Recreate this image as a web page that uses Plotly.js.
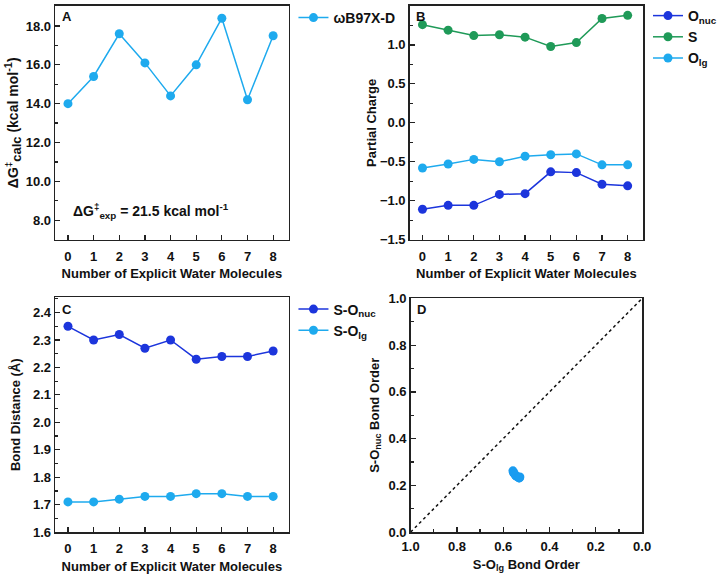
<!DOCTYPE html>
<html><head><meta charset="utf-8">
<script src="https://cdn.plot.ly/plotly-3.0.1.min.js"></script>
<style>body{margin:0;background:#fff}#c{width:722px;height:575px}</style>
</head><body><div id="c"></div>
<script>
const waters = [0,1,2,3,4,5,6,7,8];
const dGcalc = [14.0,15.4,17.6,16.1,14.4,16.0,18.4,14.2,17.5];
const qOnuc = [-1.11,-1.06,-1.06,-0.92,-0.91,-0.63,-0.64,-0.79,-0.81];
const qS = [1.26,1.19,1.12,1.13,1.10,0.98,1.03,1.34,1.38];
const qOlg = [-0.58,-0.53,-0.47,-0.50,-0.43,-0.41,-0.40,-0.54,-0.54];
const dSOnuc = [2.35,2.30,2.32,2.27,2.30,2.23,2.24,2.24,2.26];
const dSOlg = [1.71,1.71,1.72,1.73,1.73,1.74,1.74,1.73,1.73];
const boOlg = [0.558,0.556,0.552,0.548,0.544,0.536,0.532,0.528,0.530];
const boOnuc = [0.262,0.255,0.250,0.244,0.240,0.236,0.232,0.236,0.232];
const diagX = [1,0];
const diagY = [0,1];

const cDark = '#1c35dc', cLight = '#1eaaee', cGreen = '#1f9a58', cScat = '#1a9cf0';
const F = 'Liberation Sans, Arial, sans-serif';
const W = 722, H = 575;
const px = (a,b)=>[a/W,b/W];
const py = (top,bot)=>[1-bot/H,1-top/H];

function ln(x,y,name,color,xa,ya,leg){
  return {x:x,y:y,name:name,type:'scatter',mode:'lines+markers',xaxis:xa,yaxis:ya,legend:leg,
    line:{color:color,width:1.5},marker:{color:color,size:9}};
}
const traces = [
  ln(waters,dGcalc,'ωB97X-D',cLight,'x','y','legend'),
  ln(waters,qOnuc,'O<sub>nuc</sub>',cDark,'x2','y2','legend2'),
  ln(waters,qS,'S',cGreen,'x2','y2','legend2'),
  ln(waters,qOlg,'O<sub>lg</sub>',cLight,'x2','y2','legend2'),
  ln(waters,dSOnuc,'S-O<sub>nuc</sub>',cDark,'x3','y3','legend3'),
  ln(waters,dSOlg,'S-O<sub>lg</sub>',cLight,'x3','y3','legend3'),
  {x:diagX,y:diagY,type:'scatter',mode:'lines',xaxis:'x4',yaxis:'y4',showlegend:false,
    line:{color:'#111',width:1.5,dash:'dot'}},
  {x:boOlg,y:boOnuc,type:'scatter',mode:'markers',xaxis:'x4',yaxis:'y4',showlegend:false,
    marker:{color:cScat,size:9}}
];

const tf = {family:F,size:13,color:'#111',weight:'bold'};
const titf = {family:F,size:13,color:'#111',weight:'bold'};
function ax(extra){
  return Object.assign({showline:true,mirror:true,linecolor:'#222',linewidth:1.5,
    ticks:'inside',ticklen:5,tickwidth:1.2,tickcolor:'#222',showgrid:false,zeroline:false,
    tickfont:tf},extra);
}
const xw = {range:[-0.5,8.6],tickmode:'array',tickvals:waters,ticklabelstandoff:4,
  title:{text:'Number of Explicit Water Molecules',font:titf,standoff:6}};
const legF = {family:F,size:14,color:'#111',weight:'bold'};
const layout = {
  width:W,height:H,margin:{l:0,r:0,t:0,b:0},paper_bgcolor:'#fff',plot_bgcolor:'#fff',
  font:{family:F,color:'#111'},
  xaxis:ax(Object.assign({domain:px(56,293),anchor:'y'},xw)),
  yaxis:ax({domain:py(5,239),anchor:'x',range:[7,19.03],tickvals:[8,10,12,14,16,18],tickformat:'.1f',
    minor:{tickvals:[9,11,13,15,17],ticks:'inside',ticklen:3,tickcolor:'#222'},
    title:{text:'ΔG<sup>‡</sup><sub><span style="font-size:13px">calc</span></sub> (kcal mol<sup><span style="font-size:11px">-1</span></sup>)',font:{family:F,size:14,color:'#111',weight:'bold'},standoff:4}}),
  xaxis2:ax(Object.assign({domain:px(416,653),anchor:'y2'},xw)),
  yaxis2:ax({domain:py(5,239),anchor:'x2',range:[-1.5,1.5],dtick:0.5,tickformat:'.1f',
    minor:{dtick:0.25,ticks:'inside',ticklen:3,tickcolor:'#222'},
    title:{text:'Partial Charge',font:titf,standoff:0}}),
  xaxis3:ax(Object.assign({domain:px(56,293),anchor:'y3'},xw)),
  yaxis3:ax({domain:py(297,532),anchor:'x3',range:[1.6,2.455],dtick:0.1,tick0:1.6,tickformat:'.1f',
    minor:{dtick:0.05,ticks:'inside',ticklen:3,tickcolor:'#222'},
    title:{text:'Bond Distance (Å)',font:titf,standoff:9}}),
  xaxis4:ax({domain:px(417,652),anchor:'y4',range:[1,0],dtick:0.2,tickformat:'.1f',ticklabelstandoff:2,
    minor:{dtick:0.1,ticks:'inside',ticklen:3,tickcolor:'#222'},
    title:{text:'S-O<sub>lg</sub> Bond Order',font:titf,standoff:6}}),
  yaxis4:ax({domain:py(298,532),anchor:'x4',range:[0,1],dtick:0.2,tickformat:'.1f',
    minor:{dtick:0.1,ticks:'inside',ticklen:3,tickcolor:'#222'},
    title:{text:'S-O<sub>nuc</sub> Bond Order',font:titf,standoff:6}}),
  legend:{x:298/W,y:1-1/H,xanchor:'left',yanchor:'top',bgcolor:'rgba(0,0,0,0)',font:legF,itemwidth:30,tracegroupgap:0},
  legend2:{x:658/W,y:1-(-1)/H,xanchor:'left',yanchor:'top',bgcolor:'rgba(0,0,0,0)',font:legF,itemwidth:30,tracegroupgap:0},
  legend3:{x:298/W,y:1-293/H,xanchor:'left',yanchor:'top',bgcolor:'rgba(0,0,0,0)',font:legF,itemwidth:30,tracegroupgap:0},
  annotations:[
    {text:'A',x:61/W,y:1-16/H,xref:'paper',yref:'paper',xanchor:'left',yanchor:'middle',showarrow:false,font:{family:F,size:13,weight:'bold',color:'#111'}},
    {text:'B',x:420/W,y:1-16/H,xref:'paper',yref:'paper',xanchor:'left',yanchor:'middle',showarrow:false,font:{family:F,size:13,weight:'bold',color:'#111'}},
    {text:'C',x:61/W,y:1-309/H,xref:'paper',yref:'paper',xanchor:'left',yanchor:'middle',showarrow:false,font:{family:F,size:13,weight:'bold',color:'#111'}},
    {text:'D',x:421/W,y:1-309/H,xref:'paper',yref:'paper',xanchor:'left',yanchor:'middle',showarrow:false,font:{family:F,size:13,weight:'bold',color:'#111'}},
    {text:'ΔG<sup>‡</sup><sub>exp</sub> = 21.5 kcal mol<sup>-1</sup>',x:72/W,y:1-210/H,xref:'paper',yref:'paper',xanchor:'left',yanchor:'middle',showarrow:false,font:{family:F,size:14,weight:'bold',color:'#111'}}
  ]
};
Plotly.newPlot('c',traces,layout,{staticPlot:true});
</script></body></html>
